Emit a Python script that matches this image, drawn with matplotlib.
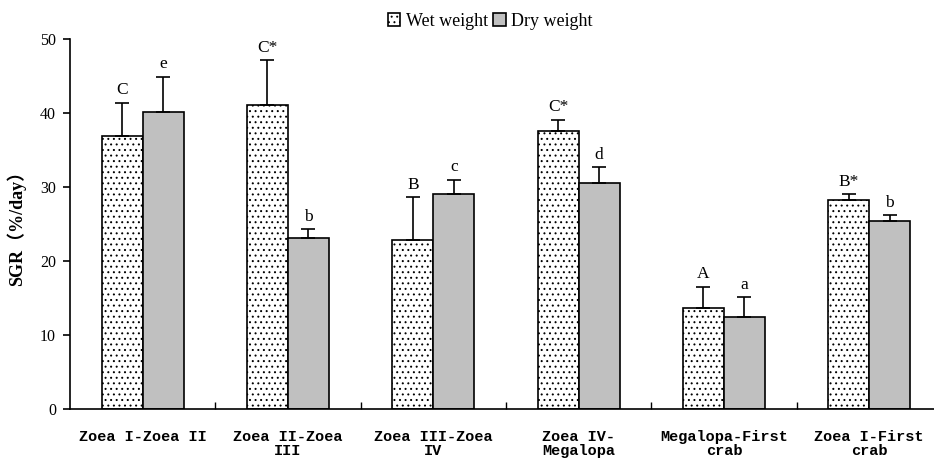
import matplotlib
matplotlib.use("Agg")
import matplotlib.pyplot as plt
import numpy as np

plt.rcParams['hatch.linewidth'] = 0.7

# SGR by developmental stage
stages = ["Zoea I-Zoea II", "Zoea II-Zoea\nIII", "Zoea III-Zoea\nIV",
          "Zoea IV-\nMegalopa", "Megalopa-First\ncrab", "Zoea I-First\ncrab"]
wet = [36.9, 41.1, 22.9, 37.6, 13.6, 28.2]
wet_err = [4.5, 6.0, 5.7, 1.5, 2.9, 0.8]
dry = [40.2, 23.1, 29.0, 30.5, 12.4, 25.4]
dry_err = [4.7, 1.2, 2.0, 2.2, 2.7, 0.8]
wet_marks = ["C", "C*", "B", "C*", "A", "B*"]
dry_marks = ["e", "b", "c", "d", "a", "b"]

fig = plt.figure(figsize=(9.34, 4.59), dpi=100)
ax = fig.add_axes([70/934, 50/459, 864/934, 370/459])

x = np.arange(len(stages)) + 0.5
w = 0.282
b1 = ax.bar(x - w/2, wet, w, color='white', edgecolor='black', hatch='...',
            linewidth=1.2, label='Wet weight')
b2 = ax.bar(x + w/2, dry, w, color='#c0c0c0', edgecolor='black',
            linewidth=1.2, label='Dry weight')
ax.errorbar(x - w/2, wet, yerr=[np.zeros(6), wet_err], fmt='none',
            ecolor='black', elinewidth=1.2, capsize=5, capthick=1.2)
ax.errorbar(x + w/2, dry, yerr=[np.zeros(6), dry_err], fmt='none',
            ecolor='black', elinewidth=1.2, capsize=5, capthick=1.2)

for xi, v, e, m in zip(x - w/2, wet, wet_err, wet_marks):
    ax.text(xi, v + e + 0.6, m, ha='center', va='bottom', fontsize=12.5,
            family=['Liberation Serif', 'DejaVu Sans'])
for xi, v, e, m in zip(x + w/2, dry, dry_err, dry_marks):
    ax.text(xi, v + e + 0.6, m, ha='center', va='bottom', fontsize=12.5,
            family=['Liberation Serif', 'DejaVu Sans'])

ax.set_ylim(0, 50)
ax.set_xlim(0, 5.946)
ax.set_yticks([0, 10, 20, 30, 40, 50])
ax.tick_params(axis='y', direction='out', length=5, labelsize=11.5, width=1.2,
               pad=5)
for lbl in ax.get_yticklabels():
    lbl.set_family('Liberation Serif')

ax.set_xticks(np.arange(1, 6))
ax.set_xticklabels([])
ax.tick_params(axis='x', direction='in', length=5, width=1)
for xi, s in zip(x, stages):
    ax.text(xi, -2.9, s, ha='center', va='top', fontsize=11,
            family='Liberation Mono', fontweight='bold', linespacing=1.0)

ax.spines['top'].set_visible(False)
ax.spines['right'].set_visible(False)
ax.spines['left'].set_linewidth(1.2)
ax.spines['bottom'].set_linewidth(1.2)

ax.set_ylabel('SGR（%/day）', fontsize=13, fontweight='bold',
              family=['Liberation Serif', 'Noto Sans CJK SC'], labelpad=10)

fig.legend(handles=[b1, b2], loc='upper center', bbox_to_anchor=(0.525, 1.008),
           ncol=2, frameon=False, handlelength=0.7,
           handleheight=0.7, handletextpad=0.3, columnspacing=0.3,
           prop={'family': 'Liberation Serif', 'size': 13})

fig.savefig('out.png', dpi=100)
